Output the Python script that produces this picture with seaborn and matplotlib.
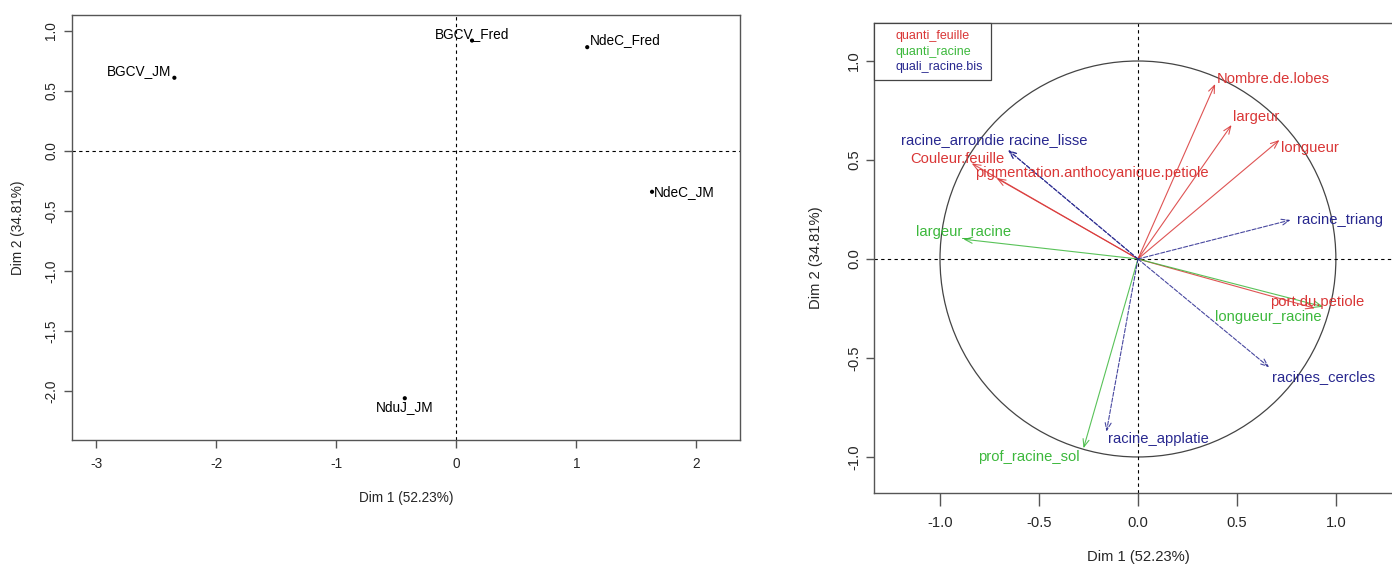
import numpy as np
import pandas as pd
import matplotlib
matplotlib.use("Agg")
import matplotlib.pyplot as plt
from matplotlib.patches import Circle
from matplotlib.lines import Line2D
import seaborn as sns

# ---------------- data ----------------
ind_names = ["BGCV_JM", "BGCV_Fred", "NdeC_Fred", "NdeC_JM", "NduJ_JM"]
ind_dim1 = [-2.35, 0.13, 1.09, 1.63, -0.43]
ind_dim2 = [0.61, 0.92, 0.865, -0.34, -2.06]

var_names = ["Nombre.de.lobes", "largeur", "longueur", "Couleur.feuille",
             "pigmentation.anthocyanique.petiole", "port.du.petiole",
             "largeur_racine", "longueur_racine", "prof_racine_sol",
             "racine_arrondie", "racine_lisse", "racine_triang",
             "racines_cercles", "racine_applatie"]
var_group = ["quanti_feuille"] * 6 + ["quanti_racine"] * 3 + ["quali_racine.bis"] * 5
var_dim1 = [0.39, 0.473, 0.715, -0.84, -0.714, 0.894,
            -0.882, 0.936, -0.275,
            -0.656, -0.656, 0.771, 0.663, -0.159]
var_dim2 = [0.884, 0.677, 0.601, 0.483, 0.408, -0.249,
            0.10, -0.241, -0.956,
            0.55, 0.55, 0.197, -0.547, -0.872]

groups = ["quanti_feuille", "quanti_racine", "quali_racine.bis"]
dim1_label = "Dim 1 (52.23%)"
dim2_label = "Dim 2 (34.81%)"

# ---------------- style ----------------
group_colors = {"quanti_feuille": "#D93636", "quanti_racine": "#3CB83C",
                "quali_racine.bis": "#28288F"}
# label offsets (pixels, right / down) relative to the point / arrow tip
ind_offsets = [(-35, -7), (0, -7), (38.5, -7), (32.4, 0), (0, 8.7)]
var_offsets = [(58.5, -5), (25, -7.7), (30, 8.3), (-14.7, -4), (95.6, -5),
               (2.5, -6), (0, -7), (-54.6, 10), (-54.6, 8.4),
               (-55, -10), (40, -10), (49, 0), (54, 9.4), (52, 7.3)]

sns.set_style("white")
plt.rcParams["font.family"] = ["Liberation Sans", "DejaVu Sans"]
plt.rcParams["axes.unicode_minus"] = False
spine_col = "#555555"

W, H = 1392, 565
fig = plt.figure(figsize=(W / 100, H / 100), dpi=100)


def px_axes(l, r, t, b):
    return fig.add_axes([l / W, 1 - b / H, (r - l) / W, (b - t) / H])


def style_axes(ax, fs, xlen, ylen, xpad, ypad):
    for s in ax.spines.values():
        s.set_color(spine_col)
        s.set_linewidth(1.0)
        s.set_visible(True)
    ax.tick_params(axis="x", direction="out", length=xlen, width=1,
                   color=spine_col, labelsize=fs, pad=xpad, bottom=True)
    ax.tick_params(axis="y", direction="out", length=ylen, width=1,
                   color=spine_col, labelsize=fs, pad=ypad, left=True)
    for lab in ax.get_yticklabels():
        lab.set_rotation(90)
        lab.set_va("center")
    ax.axhline(0, color="black", lw=0.8, ls=(0, (3, 3)), zorder=1)
    ax.axvline(0, color="black", lw=0.8, ls=(0, (3, 3)), zorder=1)


# ---------------- left: individuals ----------------
ax1 = px_axes(72, 740, 15, 440)
ind_df = pd.DataFrame({"name": ind_names, "Dim1": ind_dim1, "Dim2": ind_dim2})
sns.scatterplot(data=ind_df, x="Dim1", y="Dim2", ax=ax1, color="black",
                s=9, edgecolor="none", zorder=3)
ax1.set_xlim(-3.203, 2.363)
ax1.set_ylim(-2.408, 1.133)
ax1.set_xticks([-3, -2, -1, 0, 1, 2])
ax1.set_xticklabels(["-3", "-2", "-1", "0", "1", "2"])
yt1 = [-2.0, -1.5, -1.0, -0.5, 0.0, 0.5, 1.0]
ax1.set_yticks(yt1)
ax1.set_yticklabels([f"{v:.1f}" for v in yt1])
style_axes(ax1, 9.8, 6, 6, 6.5, 4)
for (n, x, y), (dx, dy) in zip(zip(ind_names, ind_dim1, ind_dim2), ind_offsets):
    ax1.annotate(n, (x, y), xytext=(dx * 0.72, -dy * 0.72),
                 textcoords="offset points", ha="center", va="center",
                 fontsize=9.8, color="black")
ax1.set_xlabel(dim1_label, fontsize=9.8)
ax1.set_ylabel(dim2_label, fontsize=9.8)
ax1.xaxis.set_label_coords((406 - 72) / 668, -(491 - 440) / 425)
ax1.yaxis.set_label_coords(-(72 - 25) / 668, 0.5)

# ---------------- right: variables ----------------
ax2 = px_axes(873.5, 1400.2, 23, 493)
ax2.set_xlim(-1.336, 1.325)
ax2.set_ylim(-1.182, 1.192)
ax2.add_patch(Circle((0, 0), 1.0, fill=False, ec="#444444", lw=0.9, zorder=1))
ticks = [-1.0, -0.5, 0.0, 0.5, 1.0]
ax2.set_xticks(ticks)
ax2.set_yticks(ticks)
ax2.set_xticklabels([f"{v:.1f}" for v in ticks])
ax2.set_yticklabels([f"{v:.1f}" for v in ticks])
style_axes(ax2, 10.6, 9, 6, 7.5, 3)
for n, g, x, y, (dx, dy) in zip(var_names, var_group, var_dim1, var_dim2, var_offsets):
    c = group_colors[g]
    ls = "--" if g.startswith("quali") else "-"
    ax2.annotate("", xy=(x, y), xytext=(0, 0),
                 arrowprops=dict(arrowstyle="->,head_length=0.55,head_width=0.22",
                                 color=c, lw=0.8, alpha=0.85, linestyle=ls,
                                 shrinkA=0, shrinkB=0), zorder=2)
    ax2.annotate(n, (x, y), xytext=(dx * 0.72, -dy * 0.72),
                 textcoords="offset points", ha="center", va="center",
                 fontsize=10.6, color=c, zorder=3)
ax2.set_xlabel(dim1_label, fontsize=10.6)
ax2.set_ylabel(dim2_label, fontsize=10.6)
ax2.xaxis.set_label_coords((1138 - 873.5) / 526.7, -(550 - 493) / 470)
ax2.yaxis.set_label_coords(-(873.5 - 823) / 526.7, 0.5)

handles = [Line2D([], [], color=group_colors[g], lw=0) for g in groups]
leg = ax2.legend(handles, groups, loc="upper left", bbox_to_anchor=(0, 1),
                 borderaxespad=0, fontsize=9, handlelength=0, handletextpad=1.2,
                 labelspacing=0.25, borderpad=0.6, fancybox=False,
                 framealpha=1, edgecolor="#444444",
                 labelcolor=[group_colors[g] for g in groups])
leg.get_frame().set_linewidth(0.9)

fig.savefig("out.png", dpi=100)
